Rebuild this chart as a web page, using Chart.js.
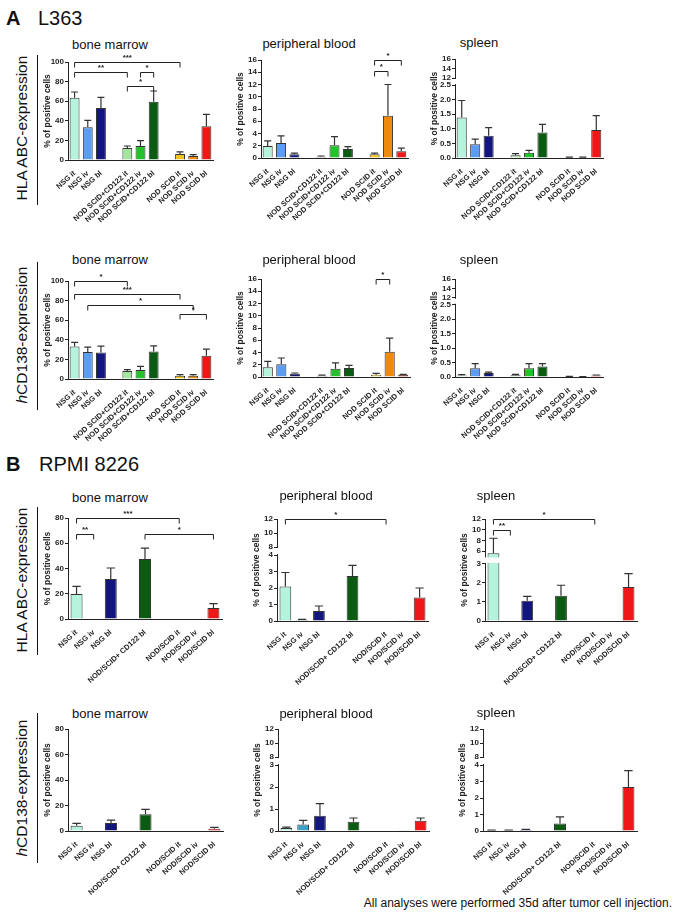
<!DOCTYPE html>
<html>
<head>
<meta charset="utf-8">
<script src="https://cdn.jsdelivr.net/npm/chart.js@4.4.0/dist/chart.umd.min.js"></script>
<style>
body { margin:0; background:#fff; width:679px; height:919px; position:relative; overflow:hidden; font-family:Arial,"Liberation Sans",sans-serif; color:#111; }
.t { position:absolute; font-size:13px; white-space:nowrap; transform:translate(-50%,-50%); }
.h { position:absolute; font-size:20px; white-space:nowrap; transform:translateY(-50%); }
.row { position:absolute; font-size:15.5px; white-space:nowrap; transform:translate(-50%,-50%) rotate(-90deg); }
.vl { position:absolute; width:1px; background:#111; left:37px; }
.foot { position:absolute; font-size:12px; right:7px; top:896px; white-space:nowrap; }
canvas { position:absolute; }
</style>
</head>
<body>
<div class="h" style="left:6px;top:18px"><b>A</b></div>
<div class="h" style="left:38px;top:18px">L363</div>
<div class="h" style="left:6px;top:464px"><b>B</b></div>
<div class="h" style="left:39px;top:464px">RPMI 8226</div>

<div class="row" style="left:22px;top:128px">HLA ABC-expression</div>
<div class="row" style="left:22px;top:335px"><i>h</i>CD138-expression</div>
<div class="row" style="left:22px;top:580px">HLA ABC-expression</div>
<div class="row" style="left:22px;top:788px"><i>h</i>CD138-expression</div>
<div class="vl" style="top:55px;height:150px"></div>
<div class="vl" style="top:262px;height:148px"></div>
<div class="vl" style="top:507px;height:148px"></div>
<div class="vl" style="top:713px;height:150px"></div>

<div class="foot">All analyses were performed 35d after tumor cell injection.</div>

<script>
// categories (empty strings = gap between groups)
const catA = ['NSG it', 'NSG iv', 'NSG bl', '', 'NOD SCID+CD122 it', 'NOD SCID+CD122 iv', 'NOD SCID+CD122 bl', '', 'NOD SCID it', 'NOD SCID iv', 'NOD SCID bl'];
const catB = ['NSG it', 'NSG iv', 'NSG bl', '', 'NOD/SCID+ CD122 bl', '', 'NOD/SCID it', 'NOD/SCID iv', 'NOD/SCID bl'];

const colA = ['#b6f3dc', '#5a9df2', '#13177d', null, '#a4e59f', '#23c22b', '#0b5b12', null, '#f0c41c', '#f08a0c', '#ef1717'];
const colB = ['#b6f3dc', '#38a3c6', '#13177d', null, '#0b5b12', null, '#f0c41c', '#f08a0c', '#ef1717'];

// L363 - HLA ABC (mean, top of error bar)
const a1bm = [63.6, 33.3, 53, null, 12.2, 14.3, 59.5, null, 6.1, 4.1, 34.4];
const a1bmHi = [69.4, 40.5, 64, null, 14.3, 19.7, 70.4, null, 8.2, 5.4, 46.6];
const a1pb = [1.97, 2.46, 0.6, null, 0.2, 2.1, 1.47, null, 0.6, 6.9, 1.1];
const a1pbHi = [2.8, 3.6, 0.8, null, 0.33, 3.5, 1.85, null, 0.8, 12.0, 1.6];
const a1sp = [1.39, 0.47, 0.76, null, 0.09, 0.18, 0.875, null, 0.02, 0.02, 0.96];
const a1spHi = [1.97, 0.65, 1.04, null, 0.15, 0.26, 1.15, null, 0.03, 0.03, 1.45];
// L363 - hCD138
const a2bm = [33.2, 27.5, 27.1, null, 8.1, 9.2, 28.1, null, 3.4, 3.4, 23.7];
const a2bmHi = [37.3, 32.5, 33.6, null, 9.5, 12.9, 33.9, null, 4.4, 4.4, 30.5];
const a2pb = [1.6, 2.07, 0.55, null, 0.2, 1.36, 1.47, null, 0.38, 4.13, 0.33];
const a2pbHi = [2.55, 3.1, 0.65, null, 0.3, 2.3, 1.9, null, 0.6, 6.36, 0.43];
const a2sp = [0.05, 0.3, 0.14, null, 0.06, 0.3, 0.36, null, 0.01, 0.005, 0.05];
const a2spHi = [0.08, 0.46, 0.17, null, 0.09, 0.46, 0.46, null, 0.02, 0.01, 0.07];
// RPMI 8226 - HLA ABC
const b1bm = [19.8, 0, 31.7, null, 47.5, null, 0, 0, 8.7];
const b1bmHi = [25.9, null, 40.4, null, 56.2, null, null, null, 12.1];
const b1pb = [2.09, 0.06, 0.61, null, 2.72, null, 0, 0.02, 1.42];
const b1pbHi = [2.94, 0.1, 0.91, null, 3.37, null, null, null, 2.0];
const b1sp = [5.6, 0, 1.07, null, 1.33, null, 0, 0, 1.79];
const b1spHi = [8.4, null, 1.3, null, 1.88, null, null, null, 2.49];
// RPMI 8226 - hCD138
const b2bm = [4.2, 0, 6.3, null, 13.1, null, 0, 0, 1.8];
const b2bmHi = [6.0, null, 8.6, null, 17.0, null, null, null, 2.9];
const b2pb = [0.14, 0.3, 0.69, null, 0.42, null, 0, 0.03, 0.47];
const b2pbHi = [0.18, 0.48, 1.24, null, 0.59, null, null, null, 0.59];
const b2sp = [0.04, 0.04, 0.08, null, 0.46, null, 0, 0, 2.67];
const b2spHi = [0.06, 0.06, 0.1, null, 0.86, null, null, null, 3.66];

// tick labels
const tick100 = ['0', '20', '40', '60', '80', '100'];
const tick80 = ['0', '20', '40', '60', '80'];
const tick16 = ['0', '2', '4', '6', '8', '10', '12', '14', '16'];
const tickSpA = ['0.0', '0.5', '1.0', '1.5', '2.0', '2.5', '12', '14', '16'];
const tickPbB1 = ['0', '1', '2', '3', '4', '8', '10', '12'];
const tickSpB1 = ['0', '1', '2', '3', '6', '8', '10', '12'];
const tickPbB2 = ['0', '1', '2', '3', '8', '10', '12'];
const tickSpB2 = ['0', '1', '2', '3', '4', '8', '10', '12'];

// significance brackets: [from, to, level, stars]
const brA1bm = [[0, 8, 100, '***'], [0, 4, 90, '**'], [5, 6, 90, '*'], [4, 6, 76, '*']];
const brA1pb = [[8, 10, 16, '*'], [8, 9, 14.2, '*']];
const brA2bm = [[0, 4, 100, '*'], [0, 8, 87, '***'], [1, 9, 75.6, '*'], [8, 10, 66.8, '*']];
const brA2pb = [[8, 9, 16, '*']];
const brB1bm = [[0, 6, 80, '***'], [0, 1, 67.3, '**'], [4, 8, 67.3, '*']];
const brB1pb = [[0, 6, 12, '*']];
const brB1sp = [[0, 6, 12, '*'], [0, 1, 10, '**']];

const FONT = 'Arial, "Liberation Sans", sans-serif';

// y scale with an optional break
class BrokenScale extends Chart.LinearScale {
  static id = 'broken';
  static defaults = {};
  determineDataLimits() {
    const P = panels[this.chart.canvas.id];
    this.min = 0;
    this.max = P.brk ? P.brk.hiMax : P.max;
  }
  buildTicks() {
    const P = panels[this.chart.canvas.id];
    return P.ticks.map(t => ({ value: parseFloat(t) }));
  }
  getPixelForValue(v) {
    const P = panels[this.chart.canvas.id];
    const b = P.brk;
    let d;
    if (!b) d = v / P.max;
    else if (v <= b.loMax) d = v / b.loMax * b.lo;
    else if (v >= b.hiMin) d = b.lo + b.gap + (v - b.hiMin) / (b.hiMax - b.hiMin) * (1 - b.lo - b.gap);
    else d = b.lo + (v - b.loMax) / (b.hiMin - b.loMax) * b.gap;
    return this.getPixelForDecimal(d);
  }
}
Chart.register(BrokenScale);

const panels = {
  a1bm: { cats: catA, cols: colA, mean: a1bm, hi: a1bmHi, ticks: tick100, max: 100, br: brA1bm, box: [68, 62, 160, 213], title: ['bone marrow', 110, 44] },
  a1pb: { cats: catA, cols: colA, mean: a1pb, hi: a1pbHi, ticks: tick16, max: 16, br: brA1pb, box: [261, 60, 158, 408], title: ['peripheral blood', 309, 43] },
  a1sp: { cats: catA, cols: colA, mean: a1sp, hi: a1spHi, ticks: tickSpA, brk: { loMax: 2.5, hiMin: 12, hiMax: 16, lo: 0.737, gap: 0.071 }, br: [], box: [455, 59, 158, 603], title: ['spleen', 479, 42] },
  a2bm: { cats: catA, cols: colA, mean: a2bm, hi: a2bmHi, ticks: tick100, max: 100, br: brA2bm, box: [68, 281, 379, 213], title: ['bone marrow', 110, 259] },
  a2pb: { cats: catA, cols: colA, mean: a2pb, hi: a2pbHi, ticks: tick16, max: 16, br: brA2pb, box: [261, 279, 377, 410], title: ['peripheral blood', 309, 259] },
  a2sp: { cats: catA, cols: colA, mean: a2sp, hi: a2spHi, ticks: tickSpA, brk: { loMax: 2.5, hiMin: 12, hiMax: 16, lo: 0.737, gap: 0.071 }, br: [], box: [455, 279, 377, 603], title: ['spleen', 479, 259] },
  b1bm: { cats: catB, cols: colB, mean: b1bm, hi: b1bmHi, ticks: tick80, max: 80, br: brB1bm, box: [68, 518, 619, 222], title: ['bone marrow', 110, 497] },
  b1pb: { cats: catB, cols: colB, mean: b1pb, hi: b1pbHi, ticks: tickPbB1, brk: { loMax: 4, hiMin: 8, hiMax: 12, lo: 0.647, gap: 0.078 }, br: brB1pb, box: [277, 519, 621, 428], title: ['peripheral blood', 326, 495] },
  b1sp: { cats: catB, cols: colB, mean: b1sp, hi: b1spHi, ticks: tickSpB1, brk: { loMax: 3, hiMin: 5, hiMax: 12, lo: 0.559, gap: 0.074 }, br: brB1sp, box: [485, 519, 621, 637], title: ['spleen', 496, 495] },
  b2bm: { cats: catB, cols: colB, mean: b2bm, hi: b2bmHi, ticks: tick80, max: 80, br: [], box: [68, 729, 831, 223], title: ['bone marrow', 110, 713] },
  b2pb: { cats: catB, cols: colB, mean: b2pb, hi: b2pbHi, ticks: tickPbB2, brk: { loMax: 3, hiMin: 8, hiMax: 12, lo: 0.647, gap: 0.078 }, br: [], box: [278, 729, 831, 429], title: ['peripheral blood', 326, 713] },
  b2sp: { cats: catB, cols: colB, mean: b2sp, hi: b2spHi, ticks: tickSpB2, brk: { loMax: 4, hiMin: 8, hiMax: 12, lo: 0.647, gap: 0.078 }, br: [], box: [483, 729, 831, 637], title: ['spleen', 496, 712] }
};

// axis break, error bars and brackets
const extras = {
  id: 'extras',
  afterDatasetsDraw(chart) {
    const P = panels[chart.canvas.id];
    const xs = chart.scales.x, ys = chart.scales.y, ctx = chart.ctx, a = chart.chartArea;
    const meta = chart.getDatasetMeta(0);
    ctx.save();
    if (P.brk) {
      const yl = ys.getPixelForValue(P.brk.loMax), yh = ys.getPixelForValue(P.brk.hiMin);
      ctx.fillStyle = '#fff';
      ctx.fillRect(a.left - 3, yh + 1, a.right - a.left + 6, yl - yh - 2);
    }
    ctx.strokeStyle = '#333';
    ctx.lineWidth = 1.2;
    P.hi.forEach((h, i) => {
      if (h == null || P.mean[i] == null) return;
      const bar = meta.data[i];
      const cx = bar.x, w = bar.width * 0.35;
      const y0 = ys.getPixelForValue(P.mean[i]), y1 = ys.getPixelForValue(h);
      ctx.beginPath();
      ctx.moveTo(cx, y0); ctx.lineTo(cx, y1);
      ctx.moveTo(cx - w, y1); ctx.lineTo(cx + w, y1);
      ctx.stroke();
    });
    ctx.strokeStyle = '#222';
    ctx.lineWidth = 1;
    ctx.fillStyle = '#222';
    ctx.font = 'bold 8px ' + FONT;
    ctx.textAlign = 'center';
    ctx.textBaseline = 'bottom';
    P.br.forEach(b => {
      const x1 = xs.getPixelForValue(b[0]), x2 = xs.getPixelForValue(b[1]);
      const yy = Math.round(ys.getPixelForValue(b[2])) + 0.5;
      ctx.beginPath();
      ctx.moveTo(x1, yy + 5); ctx.lineTo(x1, yy); ctx.lineTo(x2, yy); ctx.lineTo(x2, yy + 5);
      ctx.stroke();
      ctx.fillText(b[3], (x1 + x2) / 2, yy - 1);
    });
    ctx.restore();
  }
};

const PAD_T = 12, PAD_L = 40, Y_W = 30, X_H = 80, PAD_R = 4;

Object.keys(panels).forEach(function (id) {
  const P = panels[id];
  const [ax, top, zero, end] = P.box;

  const t = document.createElement('div');
  t.className = 't';
  t.textContent = P.title[0];
  t.style.left = P.title[1] + 'px';
  t.style.top = P.title[2] + 'px';
  document.body.appendChild(t);

  const cv = document.createElement('canvas');
  cv.id = id;
  const w = end - ax + Y_W + PAD_L + PAD_R, h = zero - top + PAD_T + X_H;
  cv.width = w; cv.height = h;
  cv.style.left = (ax - Y_W - PAD_L) + 'px';
  cv.style.top = (top - PAD_T) + 'px';
  cv.style.width = w + 'px';
  cv.style.height = h + 'px';
  document.body.appendChild(cv);

  new Chart(cv, {
    type: 'bar',
    data: {
      labels: P.cats,
      datasets: [{
        data: P.mean,
        backgroundColor: P.cols,
        borderColor: '#333',
        borderWidth: 1,
        barPercentage: P.cats.length > 9 ? 0.75 : 0.7,
        categoryPercentage: 1
      }]
    },
    options: {
      responsive: false,
      animation: false,
      devicePixelRatio: 1,
      layout: { padding: { top: PAD_T, right: PAD_R, left: PAD_L, bottom: 0 } },
      plugins: { legend: { display: false }, tooltip: { enabled: false } },
      scales: {
        x: {
          grid: { display: false },
          border: { color: '#222', width: 1 },
          ticks: { autoSkip: false, minRotation: 42, maxRotation: 42, padding: 1, color: '#222', font: { size: 7.5, weight: 'bold', family: FONT } },
          afterFit: s => { s.height = X_H; }
        },
        y: {
          type: 'broken',
          position: 'left',
          grid: { display: true, drawOnChartArea: false, drawTicks: true, tickLength: 3, color: '#222' },
          border: { color: '#222', width: 1 },
          ticks: { autoSkip: false, padding: 1, color: '#222', font: { size: 8, weight: 'bold', family: FONT }, callback: (v, i) => P.ticks[i] },
          title: { display: true, text: '% of positive cells', color: '#222', font: { size: 8.5, weight: 'bold', family: FONT }, padding: { top: 5, bottom: 0 } },
          afterFit: s => { s.width = Y_W; }
        }
      }
    },
    plugins: [extras]
  });
});
</script>
</body>
</html>
